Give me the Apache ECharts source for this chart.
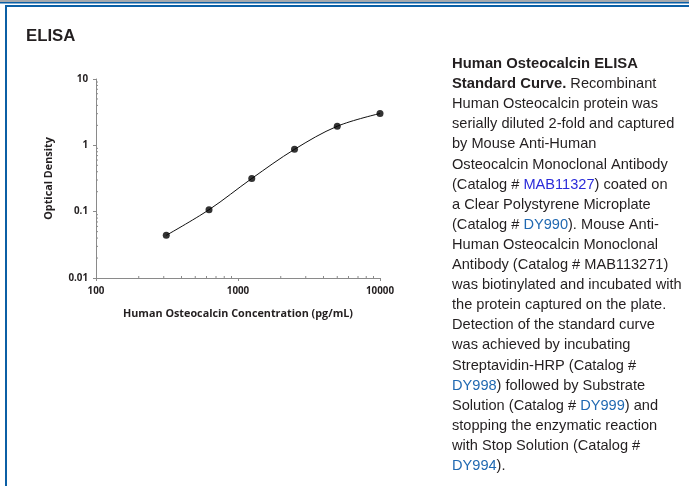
<!DOCTYPE html>
<html>
<head>
<meta charset="utf-8">
<script src="https://cdn.jsdelivr.net/npm/echarts@6/dist/echarts.min.js"></script>
<style>
html,body{margin:0;padding:0;background:#fff;}
#c{width:689px;height:486px;}
</style>
</head>
<body>
<div id="c"></div>
<script>
// Data
var concentration = [312.5, 625, 1250, 2500, 5000, 10000];
var opticalDensity = [0.044, 0.107, 0.316, 0.87, 1.94, 3.02];
var xTickLabels = [100, 1000, 10000];
var yTickLabels = [0.01, 0.1, 1, 10];
var xMinorTicks = [200, 300, 400, 500, 600, 700, 800, 900, 2000, 3000, 4000, 5000, 6000, 7000, 8000, 9000];
var yMinorTicks = [0.02, 0.03, 0.04, 0.05, 0.06, 0.07, 0.08, 0.09, 0.2, 0.3, 0.4, 0.5, 0.6, 0.7, 0.8, 0.9, 2, 3, 4, 5, 6, 7, 8, 9];

var chart = echarts.init(document.getElementById('c'), null, {renderer: 'canvas'});

var points = concentration.map(function (c, i) { return [c, opticalDensity[i]]; });
var axisColor = '#8a8a8a';
var labelFont = '"Open Sans", "DejaVu Sans", sans-serif';
var bodyFont = '"Liberation Sans", Arial, sans-serif';

var bodyText = [
  '{b|Human Osteocalcin ELISA}',
  '{b|Standard Curve.} Recombinant',
  'Human Osteocalcin protein was',
  'serially diluted 2-fold and captured',
  'by Mouse Anti-Human',
  'Osteocalcin Monoclonal Antibody',
  '(Catalog # {l1|MAB11327}) coated on',
  'a Clear Polystyrene Microplate',
  '(Catalog # {l2|DY990}). Mouse Anti-',
  'Human Osteocalcin Monoclonal',
  'Antibody (Catalog # MAB113271)',
  'was biotinylated and incubated with',
  'the protein captured on the plate.',
  'Detection of the standard curve',
  'was achieved by incubating',
  'Streptavidin-HRP (Catalog #',
  '{l2|DY998}) followed by Substrate',
  'Solution (Catalog # {l2|DY999}) and',
  'stopping the enzymatic reaction',
  'with Stop Solution (Catalog #',
  '{l2|DY994}).'
].join('\n');

var LH = 20.1;
var FS = 14.6;

var option = {
  animation: false,
  backgroundColor: '#ffffff',
  grid: {left: 96, right: 309, top: 79, bottom: 208, containLabel: false},
  xAxis: {
    type: 'log', logBase: 10, min: 100, max: 10000,
    name: 'Human Osteocalcin Concentration (pg/mL)',
    nameLocation: 'middle', nameGap: 30,
    nameTextStyle: {fontFamily: labelFont, fontWeight: 'bold', fontSize: 10.8, color: '#231f20', verticalAlign: 'top'},
    axisLine: {show: true, lineStyle: {color: axisColor, width: 1}},
    axisTick: {show: true, inside: false, length: 3, lineStyle: {color: axisColor}},
    axisLabel: {fontFamily: labelFont, fontWeight: 'bold', fontSize: 9.8, color: '#231f20', margin: 8,
      formatter: function (v) { return String(Math.round(v)); }},
    splitLine: {show: false},
    minorTick: {show: false}
  },
  yAxis: {
    type: 'log', logBase: 10, min: 0.01, max: 10,
    name: 'Optical Density',
    nameLocation: 'middle', nameGap: 42, nameRotate: 90,
    nameTextStyle: {fontFamily: labelFont, fontWeight: 'bold', fontSize: 10.8, color: '#231f20'},
    axisLine: {show: true, lineStyle: {color: axisColor, width: 1}},
    axisTick: {show: true, inside: false, length: 3, lineStyle: {color: axisColor}},
    axisLabel: {fontFamily: labelFont, fontWeight: 'bold', fontSize: 9.8, color: '#231f20', margin: 8,
      formatter: function (v) {
        var r = yTickLabels.filter(function (t) { return Math.abs(t - v) / t < 1e-6; });
        return r.length ? String(r[0]) : '';
      }},
    splitLine: {show: false},
    minorTick: {show: false}
  },
  series: [
    {
      type: 'line', data: points, smooth: 0.35,
      showSymbol: false, symbol: 'none',
      lineStyle: {color: '#111', width: 1},
      z: 2
    },
    {
      type: 'scatter', data: points, symbol: 'circle', symbolSize: 7,
      itemStyle: {color: '#000'}, z: 3
    },
    {
      type: 'custom', z: 1, silent: true, clip: false,
      data: xMinorTicks.map(function (v) { return [v, 0.01]; }),
      renderItem: function (params, api) {
        var p = api.coord([api.value(0), api.value(1)]);
        return {type: 'line', shape: {x1: p[0], y1: p[1], x2: p[0], y2: p[1] - 2},
          style: {stroke: axisColor, lineWidth: 1}};
      }
    },
    {
      type: 'custom', z: 1, silent: true, clip: false,
      data: yMinorTicks.map(function (v) { return [100, v]; }),
      renderItem: function (params, api) {
        var p = api.coord([api.value(0), api.value(1)]);
        return {type: 'line', shape: {x1: p[0], y1: p[1], x2: p[0] + 2, y2: p[1]},
          style: {stroke: axisColor, lineWidth: 1}};
      }
    }
  ],
  graphic: [
    {type: 'rect', shape: {x: 0, y: 0, width: 689, height: 2}, style: {fill: '#a7a9ac'}, silent: true},
    {type: 'rect', shape: {x: 0, y: 2, width: 689, height: 1.5}, style: {fill: '#0b5fa5'}, silent: true},
    {type: 'rect', shape: {x: 5, y: 5, width: 684, height: 2}, style: {fill: '#0b5fa5'}, silent: true},
    {type: 'rect', shape: {x: 5, y: 5, width: 2, height: 481}, style: {fill: '#0b5fa5'}, silent: true},
    {type: 'text', x: 26, y: 36, silent: true,
      style: {text: 'ELISA', fontFamily: bodyFont, fontWeight: 'bold', fontSize: 16.8, fill: '#231f20', verticalAlign: 'middle'}},
    {type: 'text', x: 452, y: 64 - LH / 2, silent: true,
      style: {
        text: bodyText, fontFamily: bodyFont, fontSize: FS, fill: '#231f20', lineHeight: LH, verticalAlign: 'top',
        rich: {
          b: {fontFamily: bodyFont, fontWeight: 'bold', fontSize: 14.8, lineHeight: LH, fill: '#231f20', color: '#231f20'},
          l1: {fontFamily: bodyFont, fontSize: FS, lineHeight: LH, fill: '#2b2bd9', color: '#2b2bd9'},
          l2: {fontFamily: bodyFont, fontSize: FS, lineHeight: LH, fill: '#1f68b1', color: '#1f68b1'}
        }
      }}
  ]
};
chart.setOption(option);
</script>
</body>
</html>
